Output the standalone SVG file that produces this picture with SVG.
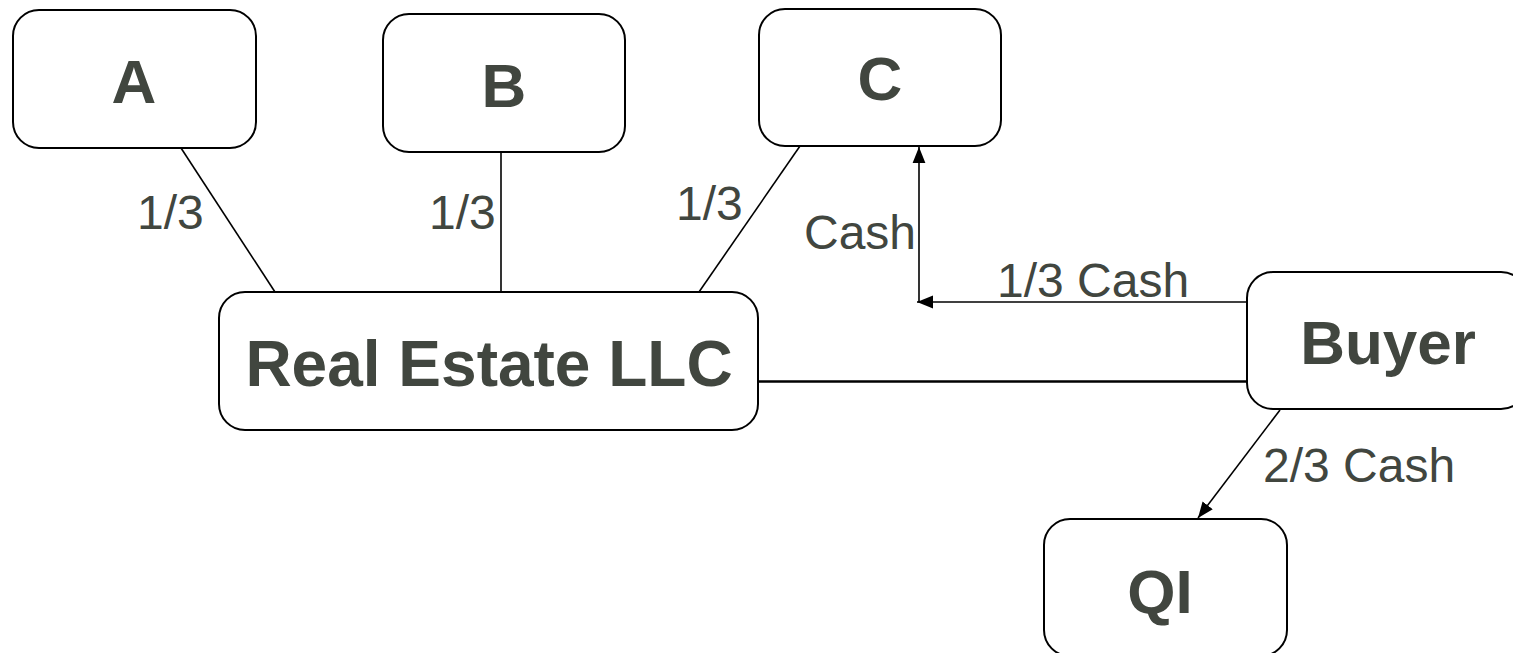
<svg xmlns="http://www.w3.org/2000/svg" width="1513" height="653" viewBox="0 0 1513 653">
<style>
.box{fill:#fff;stroke:#000;stroke-width:2}
.nt{font-family:"Liberation Sans",Arial,sans-serif;font-weight:bold;font-size:62px;fill:#41463f;text-anchor:middle}
.lt{font-family:"Liberation Sans",Arial,sans-serif;font-size:48px;fill:#41463f}
.ln{stroke:#000;stroke-width:1.6;fill:none}
</style>
<defs>
<marker id="ah" viewBox="0 0 10 10" refX="10" refY="5" markerWidth="16" markerHeight="16" markerUnits="userSpaceOnUse" orient="auto">
<path d="M0,1 L10,5 L0,9 z" fill="#000"/>
</marker>
</defs>
<g id="connectors">
<line class="ln" x1="181" y1="148" x2="275" y2="292"/>
<line class="ln" x1="501" y1="152" x2="501" y2="292"/>
<line class="ln" x1="800" y1="146" x2="699" y2="292"/>
<line class="ln" x1="1247" y1="302" x2="917" y2="302" marker-end="url(#ah)"/>
<line class="ln" x1="919" y1="302" x2="919" y2="147" marker-end="url(#ah)"/>
<line x1="758" y1="381.5" x2="1250" y2="381.5" stroke="#000" stroke-width="2.5"/>
<line class="ln" x1="1280" y1="410" x2="1198" y2="518" marker-end="url(#ah)"/>
<text class="lt" x="137" y="229">1/3</text>
<text class="lt" x="429" y="229">1/3</text>
<text class="lt" x="676" y="220">1/3</text>
<text class="lt" x="804" y="249">Cash</text>
<text class="lt" x="997" y="297">1/3 Cash</text>
<text class="lt" x="1263" y="482">2/3 Cash</text>
</g>
<g id="node-a">
<rect class="box" x="13" y="10" width="243" height="138" rx="26"/>
<text class="nt" x="134" y="103">A</text>
</g>
<g id="node-b">
<rect class="box" x="383" y="14" width="242" height="138" rx="26"/>
<text class="nt" x="504" y="107">B</text>
</g>
<g id="node-c">
<rect class="box" x="759" y="9" width="242" height="137" rx="26"/>
<text class="nt" x="880" y="100">C</text>
</g>
<g id="node-llc">
<rect class="box" x="219" y="292" width="539" height="138" rx="26"/>
<text class="nt" x="489" y="386" style="font-size:64px">Real Estate LLC</text>
</g>
<g id="node-buyer">
<rect class="box" x="1247" y="272" width="280" height="137" rx="26"/>
<text class="nt" x="1388" y="364">Buyer</text>
</g>
<g id="node-qi">
<rect class="box" x="1044" y="519" width="243" height="137" rx="26"/>
<text class="nt" x="1160" y="613">QI</text>
</g>
</svg>
